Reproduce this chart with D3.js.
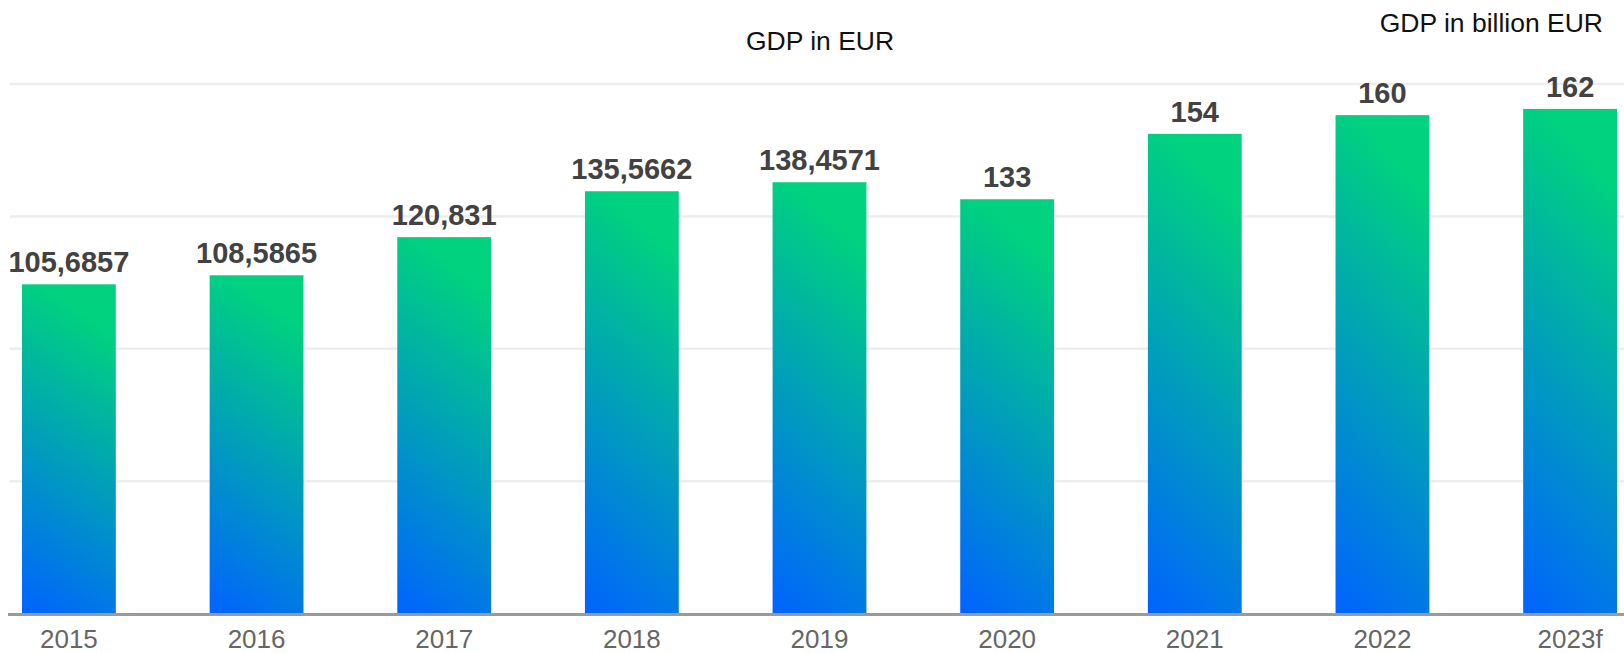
<!DOCTYPE html>
<html lang="en">

<head>
    <meta charset="UTF-8">
    <title>GDP in EUR</title>
    <script src="https://cdn.jsdelivr.net/npm/d3@7"></script>
    <style>
        body {
            margin: 0;
            background: #fff;
        }
        svg {
            display: block;
            font-family: "Liberation Sans", Arial, sans-serif;
        }
    </style>
</head>

<body>
    <script>
        var years = ['2015', '2016', '2017', '2018', '2019', '2020', '2021', '2022', '2023f'];
        var gdp = [105.6857, 108.5865, 120.831, 135.5662, 138.4571, 133, 154, 160, 162];
        var gridTicks = [42.5, 85, 127.5, 170];

        var width = 1624, height = 653;

        var svg = d3.select('body')
            .append('svg')
            .attr('width', width)
            .attr('height', height);

        var xscale = d3.scaleBand()
            .domain(years)
            .range([22, 1617])
            .paddingInner(0.5)
            .paddingOuter(0);

        var yscale = d3.scaleLinear()
            .domain([0, 170])
            .range([613.5, 84]);

        // gradient, blue at the bottom-left going to green at the top
        var grad = svg.append('defs')
            .append('linearGradient')
            .attr('id', 'barGrad')
            .attr('x1', 0).attr('y1', 1)
            .attr('x2', 0.2).attr('y2', 0);
        grad.append('stop').attr('offset', '0%').attr('stop-color', '#0063ff');
        grad.append('stop').attr('offset', '100%').attr('stop-color', '#00d27f');

        // gridlines
        svg.append('g')
            .selectAll('line')
            .data(gridTicks)
            .enter()
            .append('line')
            .attr('x1', 10)
            .attr('x2', width)
            .attr('y1', d => yscale(d))
            .attr('y2', d => yscale(d))
            .attr('stroke', '#ededed')
            .attr('stroke-width', 2.5);

        svg.selectAll('rect.bar')
            .data(gdp)
            .enter()
            .append('rect')
            .attr('class', 'bar')
            .attr('x', (d, i) => xscale(years[i]))
            .attr('width', xscale.bandwidth())
            .attr('y', d => yscale(d))
            .attr('height', d => yscale(0) - yscale(d))
            .attr('fill', 'url(#barGrad)');

        svg.selectAll('text.val')
            .data(gdp)
            .enter()
            .append('text')
            .attr('class', 'val')
            .attr('x', (d, i) => xscale(years[i]) + xscale.bandwidth() / 2)
            .attr('y', d => yscale(d) - 12)
            .attr('text-anchor', 'middle')
            .attr('font-size', 29)
            .attr('font-weight', 'bold')
            .attr('fill', '#424242')
            .text(d => String(d).replace('.', ','));

        // x axis
        var xaxis = d3.axisBottom(xscale)
            .tickSize(0)
            .tickPadding(0);

        var gx = svg.append('g')
            .attr('transform', 'translate(0,' + 614.5 + ')')
            .call(xaxis);
        gx.select('.domain').remove();
        gx.append('line')
            .attr('x1', 8)
            .attr('x2', width)
            .attr('stroke', '#9a9a9a')
            .attr('stroke-width', 3);
        gx.selectAll('.tick text')
            .attr('dy', null)
            .attr('y', 33.5)
            .attr('font-size', 26)
            .attr('font-family', '"Liberation Sans", Arial, sans-serif')
            .attr('fill', '#666');

        svg.append('text')
            .attr('x', 820)
            .attr('y', 49.5)
            .attr('text-anchor', 'middle')
            .attr('font-size', 26.5)
            .attr('fill', '#111')
            .text('GDP in EUR');

        svg.append('text')
            .attr('x', 1603)
            .attr('y', 31.5)
            .attr('text-anchor', 'end')
            .attr('font-size', 26.5)
            .attr('fill', '#111')
            .text('GDP in billion EUR');
    </script>
</body>

</html>
